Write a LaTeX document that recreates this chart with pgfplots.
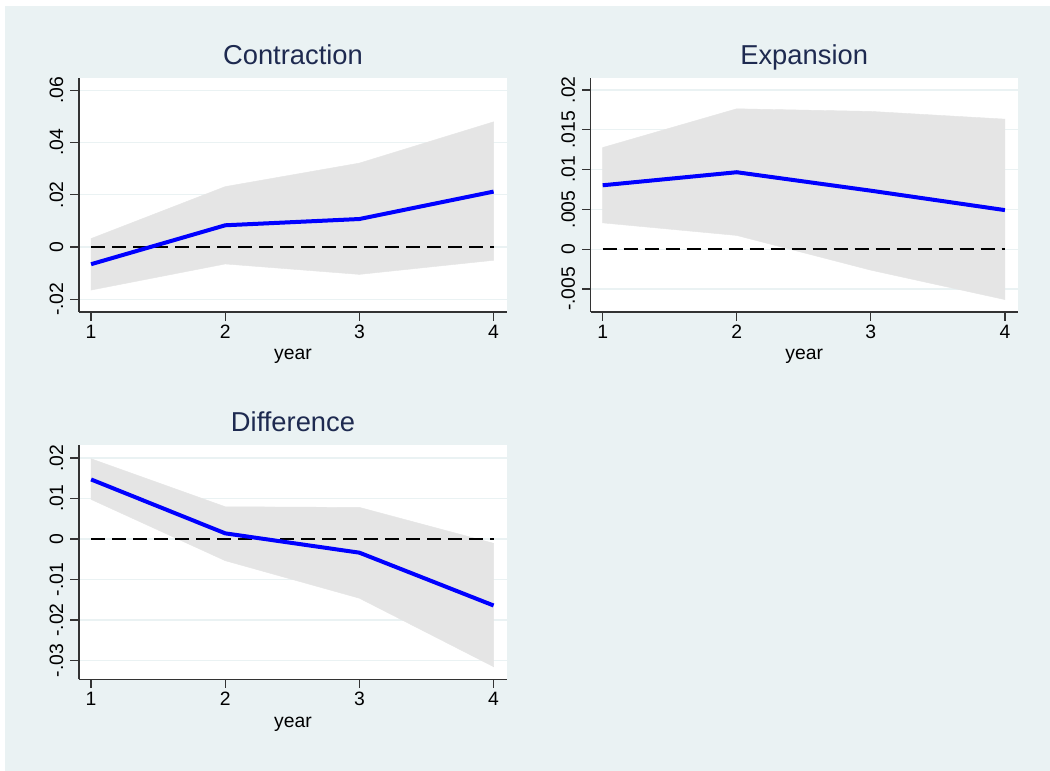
\documentclass[border=0pt]{standalone}
\usepackage{pgfplots}
\pgfplotsset{compat=1.18}
\usepackage{fontspec}
\setmainfont{Liberation Sans}
\definecolor{bgblue}{RGB}{234,242,243}
\definecolor{bandgray}{RGB}{229,229,229}
\definecolor{titlenavy}{RGB}{30,42,80}
\definecolor{gridc}{RGB}{234,242,243}
\pgfplotsset{
  statastyle/.style={
    scale only axis,
    width=321pt, height=175.5pt,
    anchor=south west,
    axis lines*=left,
    axis line style={black!80, line width=0.9pt},
    axis background/.style={fill=white},
    tick align=outside,
    major tick length=6.5pt,
    tick style={black!80, line width=0.9pt},
    xtick={1,2,3,4}, xticklabels={1,2,3,4},
    scaled y ticks=false,
    ymajorgrids, grid style={gridc, line width=0.9pt},
    /pgf/number format/assume math mode=true,
    ticklabel style={font=\fontsize{14.5}{16}\selectfont, inner sep=0pt},
    xticklabel style={anchor=north, yshift=-3pt},
    yticklabel style={rotate=90, anchor=south, yshift=5pt},
    title style={font=\fontsize{20.5}{24}\selectfont, color=titlenavy, at={(axis description cs:0.5,1)}, anchor=base, yshift=4pt},
    xlabel={year},
    xlabel style={font=\fontsize{14.5}{16}\selectfont, at={(axis description cs:0.5,0)}, anchor=base, yshift=-36pt},
    clip=false,
  },
  meanline/.style={color=blue, line width=3pt, line join=round},
  zeroline/.style={black, line width=1.1pt, dash pattern=on 10.5pt off 5.25pt},
  band/.style={fill=bandgray, draw=bandgray, line width=0.3pt},
}
\begin{document}
\begin{tikzpicture}
\fill[white] (0,0) rectangle (787.5pt,578.25pt);
\fill[bgblue] (3.75pt,0) rectangle (787.5pt,573.75pt);
\useasboundingbox (0,0) rectangle (787.5pt,578.25pt);

% Contraction
\begin{axis}[statastyle, at={(59.25pt,344.25pt)},
  title={Contraction},
  xmin=0.91, xmax=4.10, ymin=-0.0249, ymax=0.0647,
  ytick={-0.02,0,0.02,0.04,0.06},
  yticklabels={-.02,0,.02,.04,.06}]
\addplot[band] coordinates {(1,0.0032) (2,0.0231) (3,0.0321) (4,0.0479) (4,-0.0051) (3,-0.0105) (2,-0.0065) (1,-0.0165)} -- cycle;
\addplot[zeroline] coordinates {(1,0) (4,0)};
\addplot[meanline] coordinates {(1,-0.0066) (2,0.0083) (3,0.0107) (4,0.0212)};
\end{axis}

% Expansion
\begin{axis}[statastyle, at={(443.0pt,344.25pt)}, width=320.25pt,
  title={Expansion},
  xmin=0.9105, xmax=4.095, ymin=-0.0079, ymax=0.0215,
  ytick={-0.005,0,0.005,0.01,0.015,0.02},
  yticklabels={-.005,0,.005,.01,.015,.02}]
\addplot[band] coordinates {(1,0.01276) (2,0.01763) (3,0.0173) (4,0.01633) (4,-0.00634) (3,-0.00264) (2,0.00172) (1,0.0033)} -- cycle;
\addplot[zeroline] coordinates {(1,0) (4,0)};
\addplot[meanline] coordinates {(1,0.00802) (2,0.00966) (3,0.00734) (4,0.0049)};
\end{axis}

% Difference
\begin{axis}[statastyle, at={(59.25pt,68.8pt)}, height=175.7pt,
  title={Difference},
  xmin=0.91, xmax=4.10, ymin=-0.0346, ymax=0.0232,
  ytick={-0.03,-0.02,-0.01,0,0.01,0.02},
  yticklabels={-.03,-.02,-.01,0,.01,.02}]
\addplot[band] coordinates {(1,0.0198) (2,0.00796) (3,0.0078) (4,-0.00106) (4,-0.0315) (3,-0.0146) (2,-0.00534) (1,0.00978)} -- cycle;
\addplot[zeroline] coordinates {(1,0) (4,0)};
\addplot[meanline] coordinates {(1,0.0147) (2,0.0014) (3,-0.00337) (4,-0.0164)};
\end{axis}
\end{tikzpicture}
\end{document}
